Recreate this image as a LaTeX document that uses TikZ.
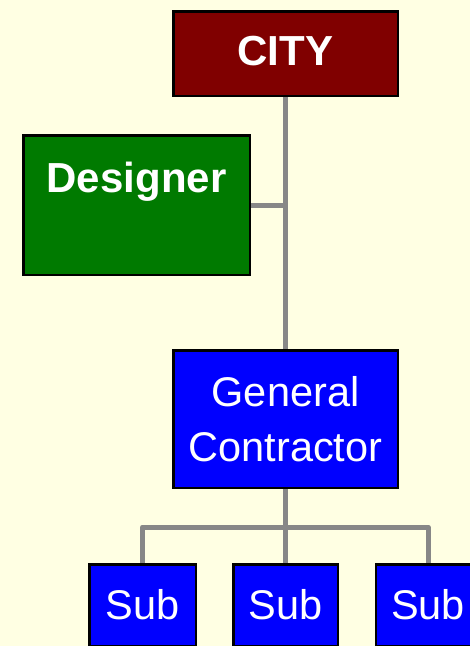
\documentclass[tikz,border=0pt]{standalone}
\usepackage{fontspec}
\setmainfont{Liberation Sans}
\definecolor{bgyellow}{HTML}{FFFFE3}
\definecolor{cityred}{HTML}{800000}
\definecolor{desgreen}{HTML}{007A00}
\definecolor{gcblue}{HTML}{0000FF}
\definecolor{linegray}{HTML}{878787}
\pgfdeclarelayer{bg}
\pgfsetlayers{bg,main}
\begin{document}
\begin{tikzpicture}[x=1pt,y=-1pt,
  box/.style={draw=black,line width=2.5pt,text=white,inner sep=0pt,align=center,
    font=\fontsize{41.5}{55}\selectfont},
  boldbox/.style={box,font=\fontsize{42}{55}\selectfont\bfseries},
  conn/.style={draw=linegray,line width=5pt,line join=round}]
\useasboundingbox (0,0) rectangle (470,646);
\clip (0,0) rectangle (470,646);
\node[boldbox,fill=cityred,minimum width=224.5pt,minimum height=84.5pt,
  text height=30pt,text depth=7pt] (city) at (285.5,53.5) {CITY};
\node[boldbox,fill=desgreen,minimum width=226.5pt,minimum height=139.5pt,
  text height=30pt,text depth=56pt] (des) at (136.5,205) {Designer};
\node[box,fill=gcblue,minimum width=224.5pt,minimum height=137.5pt] (gc) at (285.5,419) {General\\Contractor};
\node[box,fill=gcblue,minimum width=106.5pt,minimum height=81.5pt] (s1) at (142.5,605) {Sub};
\node[box,fill=gcblue,minimum width=104.5pt,minimum height=81.5pt] (s2) at (285.5,605) {Sub};
\node[box,fill=gcblue,minimum width=104.5pt,minimum height=81.5pt] (s3) at (428,605) {Sub};
\coordinate (bus) at (285.5,527);
\begin{pgfonlayer}{bg}
\fill[bgyellow] (0,0) rectangle (470,646);
\draw[conn] (city.south) -- (gc.north);
\draw[conn] (des.east) -- (des.east -| city.south);
\draw[conn] (gc.south) -- (s2.north);
\draw[conn] (s1.north) |- (bus) -| (s3.north);
\end{pgfonlayer}
\end{tikzpicture}
\end{document}
